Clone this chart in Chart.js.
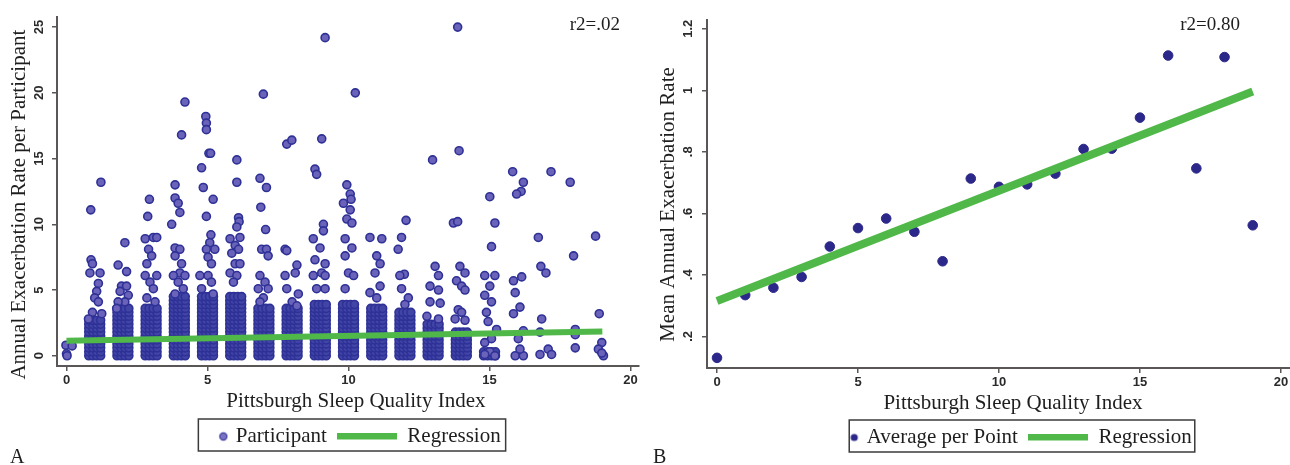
<!DOCTYPE html>
<html>
<head>
<meta charset="utf-8">
<script src="https://cdn.jsdelivr.net/npm/chart.js@4.4.0/dist/chart.umd.min.js"></script>
<style>
html, body { margin: 0; padding: 0; background: #fff; overflow: hidden; width: 1290px; height: 465px; }
#left { position: absolute; left: 0; top: 0; }
#right { position: absolute; left: 645px; top: 0; }
</style>
</head>
<body>
<canvas id="left" width="645" height="465"></canvas>
<canvas id="right" width="680" height="465"></canvas>
<script>
// ---- data ----

const psqi = [0,1,2,3,4,5,6,7,8,9,10,11,12,13,14,15,16,17,18,19];

// panel B: mean annual exacerbation rate per PSQI score
const meanRate = [0.13,0.334,0.358,0.393,0.492,0.552,0.583,0.54,0.444,0.713,
                  0.686,0.694,0.729,0.809,0.81,0.911,1.113,0.746,1.108,0.561];

// fitted regression lines, evaluated at both ends
const fitX = [0, 19];
const fitA = [1.15, 1.85];
const fitB = [0.315, 0.996];

const xTicks = [0,5,10,15,20];
const yTicksA = [0,5,10,15,20,25];
const yTicksB = [0.2,0.4,0.6,0.8,1,1.2];

// panel A: the solid pile of low rates at the bottom of each column
const stackJitter = [-0.21, -0.07, 0.07, 0.21];
const stackLevels = [
  [],
  [0,0.3,0.6,0.9,1.2,1.5,1.8,2.1,2.4,2.7],
  [0,0.3,0.6,0.9,1.2,1.5,1.8,2.1,2.4,2.7,3.0,3.3,3.6],
  [0,0.3,0.6,0.9,1.2,1.5,1.8,2.1,2.4,2.7,3.0,3.3,3.6],
  [0,0.3,0.6,0.9,1.2,1.5,1.8,2.1,2.4,2.7,3.0,3.3,3.6,3.9,4.2,4.5],
  [0,0.3,0.6,0.9,1.2,1.5,1.8,2.1,2.4,2.7,3.0,3.3,3.6,3.9,4.2,4.5],
  [0,0.3,0.6,0.9,1.2,1.5,1.8,2.1,2.4,2.7,3.0,3.3,3.6,3.9,4.2,4.5],
  [0,0.3,0.6,0.9,1.2,1.5,1.8,2.1,2.4,2.7,3.0,3.3,3.6],
  [0,0.3,0.6,0.9,1.2,1.5,1.8,2.1,2.4,2.7,3.0,3.3,3.6],
  [0,0.3,0.6,0.9,1.2,1.5,1.8,2.1,2.4,2.7,3.0,3.3,3.6,3.9],
  [0,0.3,0.6,0.9,1.2,1.5,1.8,2.1,2.4,2.7,3.0,3.3,3.6,3.9],
  [0,0.3,0.6,0.9,1.2,1.5,1.8,2.1,2.4,2.7,3.0,3.3,3.6],
  [0,0.3,0.6,0.9,1.2,1.5,1.8,2.1,2.4,2.7,3.0,3.3],
  [0,0.3,0.6,0.9,1.2,1.5,1.8,2.1,2.4],
  [0,0.3,0.6,0.9,1.2,1.5,1.8],
  [0,0.3],
  [], [], [], []
];

// panel A: individual participants above the pile, [jitter, rate]
const scattered = [
  [[-0.02,0.8],[0.2,0.75],[0,0.15],[0.02,0]],
  [[-0.14,11.1],[0.22,13.2],[-0.13,7.3],[-0.08,7.0],[-0.17,6.3],[0.19,6.3],[0.13,5.5],[0.07,4.9],[0,4.4],[0.13,4.1],[-0.08,3.3],[0.25,3.2],[-0.22,2.8]],
  [[0.07,8.6],[-0.17,6.9],[0.13,6.4],[-0.05,5.3],[0.13,5.3],[-0.1,4.9],[0.19,4.6],[0.07,4.1],[-0.17,4.1],[-0.22,3.6]],
  [[-0.06,11.9],[-0.12,10.6],[-0.21,8.9],[0.08,9.0],[0.2,9.0],[-0.09,8.1],[0.02,7.6],[-0.15,7.0],[0.2,6.1],[-0.21,6.1],[-0.04,5.6],[0.08,5.1],[-0.15,4.4],[0.14,4.1]],
  [[0.2,19.3],[0.08,16.8],[-0.15,13.0],[-0.15,12.0],[-0.04,11.6],[0.02,10.9],[-0.27,10.0],[-0.15,8.2],[0.02,8.1],[-0.15,7.6],[0.08,7.0],[0.02,6.3],[0.2,6.1],[-0.21,6.1],[-0.04,5.6],[0.14,5.1],[-0.15,4.7]],
  [[-0.06,18.2],[-0.04,17.7],[-0.04,17.2],[0.05,15.4],[0.11,15.4],[-0.21,14.3],[-0.15,12.8],[0.2,11.9],[-0.04,10.6],[0.12,9.2],[0.08,8.6],[-0.04,8.1],[0.26,8.1],[0.02,7.5],[0.14,7.0],[-0.27,6.1],[0.02,6.1],[0.14,5.6],[-0.21,5.1],[0.2,4.7]],
  [[0.04,14.9],[0.04,13.2],[0.1,10.5],[0.12,10.2],[0.04,9.8],[0.15,9.0],[-0.2,8.9],[-0.02,8.4],[0.1,8.1],[-0.14,7.8],[-0.02,7.0],[0.15,7.0],[-0.2,6.3],[0.04,6.1],[-0.08,5.6]],
  [[-0.02,19.9],[-0.14,13.5],[0.09,12.8],[-0.11,11.3],[0.06,9.6],[-0.08,8.1],[0.09,8.1],[0.15,7.6],[-0.14,6.1],[0.04,5.6],[-0.2,5.1],[0.15,5.1],[-0.02,4.4],[-0.14,4.1]],
  [[-0.19,16.1],[-0.01,16.4],[-0.25,8.1],[-0.19,8.0],[0.17,6.9],[0.11,6.3],[-0.25,6.1],[-0.19,5.1],[0.22,4.7],[0,4.1],[0.17,3.8]],
  [[0.17,24.2],[0.05,16.5],[-0.19,14.2],[-0.13,13.8],[0.11,10.0],[0.11,9.5],[-0.25,8.9],[-0.01,8.2],[-0.19,7.3],[0.17,7.0],[-0.25,6.1],[0.05,6.3],[0.17,6.1],[-0.13,5.1],[0.17,5.1]],
  [[0.24,20.0],[-0.06,13.0],[0.06,12.3],[0.09,11.9],[-0.18,11.6],[0.06,11.1],[-0.06,10.4],[0.12,10.1],[-0.12,8.9],[0.12,8.2],[-0.12,7.6],[0,6.3],[0.18,6.1],[-0.12,5.1]],
  [[-0.24,9.0],[0.18,8.9],[0,7.6],[0.12,7.0],[-0.06,6.3],[0.12,5.3],[-0.24,4.8],[0,4.4]],
  [[0.04,10.3],[-0.12,9.0],[-0.24,8.1],[-0.02,6.2],[-0.18,6.1],[-0.12,5.1],[0.12,4.4],[0,3.9]],
  [[-0.02,14.9],[0.07,6.8],[0.19,6.1],[-0.11,5.3],[0.19,5.0],[-0.11,4.1],[0.25,4.0],[-0.22,3.0],[0.19,2.8]],
  [[-0.13,25.0],[-0.08,15.6],[-0.28,10.1],[-0.13,10.2],[-0.05,6.8],[0.13,6.3],[-0.17,5.7],[0.01,5.3],[0.13,5.0],[-0.11,3.5],[0.01,3.3],[0.13,2.7],[-0.22,2.8]],
  [[0.01,12.1],[0.19,10.1],[0.07,8.3],[-0.17,6.1],[0.19,6.1],[0.01,5.3],[-0.17,4.6],[0.07,4.1],[-0.11,3.3],[-0.05,2.6],[0.25,2.0],[0.07,1.3],[-0.17,1.0],[0.01,0.3],[0.19,0],[-0.17,0.1]],
  [[-0.18,14.0],[0.2,13.2],[0.12,12.5],[-0.04,12.3],[0.14,6.0],[-0.15,5.7],[-0.09,4.8],[0.08,3.7],[-0.15,3.2],[0.2,1.9],[0.02,1.3],[-0.09,0],[0.2,0],[0.08,0.5]],
  [[0.18,14.0],[-0.27,9.0],[-0.18,6.8],[0,6.3],[-0.15,2.8],[-0.21,1.8],[-0.21,0.1],[0.08,0.5],[0.2,0.1]],
  [[-0.14,13.2],[-0.02,7.6],[0.04,2.0],[0.04,1.6],[0.04,0.6]],
  [[-0.24,9.1],[-0.11,3.2],[-0.02,1.0],[-0.14,0.5],[0.04,0],[-0.02,0.2]]
];

// ---- build point lists ----

let participants = [];
for (let i = 0; i < psqi.length; i++) {
    for (const lvl of stackLevels[i]) {
        for (const j of stackJitter) participants.push({x: psqi[i] + j, y: lvl, dense: true});
    }
    for (const p of scattered[i]) participants.push({x: psqi[i] + p[0], y: p[1]});
}
const averages = psqi.map((x, i) => ({x: x, y: meanRate[i]}));
const lineA = fitX.map((x, i) => ({x: x, y: fitA[i]}));
const lineB = fitX.map((x, i) => ({x: x, y: fitB[i]}));

// ---- styling ----

const GREEN = '#4fb848';
const AXIS = '#5a5656';
const SERIF = '"Liberation Serif", "Times New Roman", serif';
const TICKFONT = {family: '"Liberation Sans", Arial, sans-serif', size: 13, weight: 'bold'};
const NB = '\u00a0';

// legend icons: small marker at the right end of a wide slot, and a thick line
function markerIcon(fill, stroke) {
    const c = document.createElement('canvas');
    c.width = 66; c.height = 12;
    const g = c.getContext('2d');
    g.beginPath();
    g.arc(61, 6, 3.6, 0, Math.PI * 2);
    g.fillStyle = fill; g.fill();
    if (stroke) { g.lineWidth = 1.2; g.strokeStyle = stroke; g.stroke(); }
    return c;
}
function lineIcon() {
    const c = document.createElement('canvas');
    c.width = 60; c.height = 8;
    const g = c.getContext('2d');
    g.fillStyle = GREEN;
    g.fillRect(0, 0, 60, 7);
    return c;
}

// r2 text, panel letter, legend nudge and the frame round the legend
const decorations = {
    id: 'decorations',
    afterLayout(chart, args, o) {
        chart.legend.left += o.legendShift;
        chart.legend.right += o.legendShift;
    },
    afterDraw(chart, args, o) {
        const ctx = chart.ctx;
        ctx.save();
        ctx.fillStyle = '#1e1e1e';
        ctx.textBaseline = 'middle';
        ctx.font = '19px ' + SERIF;
        ctx.textAlign = 'right';
        ctx.fillText(o.r2, o.r2x, o.r2y);
        ctx.font = '20px ' + SERIF;
        ctx.textAlign = 'left';
        ctx.fillText(o.panel, o.panelX, o.panelY);
        const hb = chart.legend.legendHitBoxes;
        if (hb && hb.length) {
            const first = hb[0], last = hb[hb.length - 1];
            const x0 = first.left + o.frameLeft;
            const x1 = last.left + last.width + o.frameRight;
            ctx.strokeStyle = '#3b3b3b';
            ctx.lineWidth = 1.5;
            ctx.strokeRect(x0, first.top - 7, x1 - x0, 32);
        }
        ctx.restore();
    }
};

function buildChart(el, p) {
    return new Chart(el, {
        type: 'scatter',
        data: {
            datasets: [
                {
                    label: p.pointLabel,
                    data: p.points,
                    pointRadius: p.radius,
                    pointHoverRadius: p.radius,
                    // overlapping pile reads darker than the lone markers
                    pointBackgroundColor: c => (c.raw && c.raw.dense) ? p.denseFill : p.fill,
                    pointBorderColor: p.stroke,
                    pointBorderWidth: p.strokeW,
                    order: 1
                },
                {
                    type: 'line',
                    label: 'Regression',
                    data: p.fit,
                    borderColor: GREEN,
                    backgroundColor: GREEN,
                    borderWidth: p.fitW,
                    borderCapStyle: 'butt',
                    pointRadius: 0,
                    fill: false,
                    order: 0
                }
            ]
        },
        options: {
            responsive: false,
            animation: false,
            events: [],
            layout: {padding: {top: p.padTop, right: 6, bottom: p.padBottom, left: 0}},
            scales: {
                x: {
                    type: 'linear',
                    min: p.xMin, max: p.xMax,
                    afterBuildTicks: s => { s.ticks = xTicks.map(v => ({value: v})); },
                    afterFit: s => { s.height = p.xHeight; },
                    ticks: {autoSkip: false, maxRotation: 0, color: '#2a2a2a', font: TICKFONT, padding: 2},
                    grid: {drawOnChartArea: false, drawTicks: true, tickLength: 5, color: AXIS, lineWidth: 1.5},
                    border: {display: true, color: AXIS, width: 2},
                    title: {display: true, text: p.xTitle, color: '#1e1e1e',
                            font: {family: SERIF, size: 21}, padding: {top: 0, bottom: p.xTitlePad}}
                },
                y: {
                    type: 'linear',
                    min: p.yMin, max: p.yMax,
                    afterBuildTicks: s => { s.ticks = p.yTicks.map(v => ({value: v})); },
                    afterFit: s => { s.width = p.yWidth; },
                    ticks: {autoSkip: false, minRotation: 90, maxRotation: 90, crossAlign: 'center',
                            color: '#2a2a2a', font: TICKFONT, padding: 5, callback: p.yLabel},
                    grid: {drawOnChartArea: false, drawTicks: true, tickLength: 5, color: AXIS, lineWidth: 1.5},
                    border: {display: true, color: AXIS, width: 2},
                    title: {display: true, text: p.yTitle, color: '#1e1e1e',
                            font: {family: SERIF, size: 21}, padding: {top: p.yTitlePad, bottom: 0}}
                }
            },
            plugins: {
                tooltip: {enabled: false},
                legend: {
                    position: 'bottom',
                    fullSize: false,
                    labels: {
                        usePointStyle: true,
                        pointStyleWidth: 60,
                        padding: 10,
                        color: '#1e1e1e',
                        font: {family: SERIF, size: 21},
                        sort: (a, b) => a.datasetIndex - b.datasetIndex,
                        generateLabels: chart => {
                            const items = Chart.defaults.plugins.legend.labels.generateLabels(chart);
                            items.forEach(it => { it.pointStyle = p.icons[it.datasetIndex]; });
                            return items;
                        }
                    }
                },
                decorations: p.deco
            }
        },
        plugins: [decorations]
    });
}

// panel A
buildChart(document.getElementById('left'), {
    pointLabel: 'Participant',
    points: participants,
    radius: 4, fill: '#6b63b9', denseFill: '#4244a6', stroke: '#2e3196', strokeW: 1.6,
    fit: lineA, fitW: 6,
    padTop: 17, padBottom: 8,
    xMin: -0.337, xMax: 20.3, xHeight: 50, xTitlePad: 2,
    xTitle: NB + NB + NB + 'Pittsburgh Sleep Quality Index',
    yMin: -0.78, yMax: 25.77, yWidth: 57, yTicks: yTicksA,
    yLabel: v => String(v),
    yTitle: 'Annual Exacerbation Rate per Participant' + NB.repeat(5), yTitlePad: 7,
    icons: [markerIcon('#7b73c2', '#3a3d9e'), lineIcon()],
    deco: {r2: 'r2=.02', r2x: 620, r2y: 25, panel: 'A', panelX: 10, panelY: 458,
           legendShift: -15, frameLeft: 33, frameRight: 5}
});

// panel B
buildChart(document.getElementById('right'), {
    pointLabel: 'Average per Point',
    points: averages,
    radius: 4.8, fill: '#2b2889', denseFill: '#2b2889', stroke: '#2b2889', strokeW: 1,
    fit: lineB, fitW: 8,
    padTop: 20, padBottom: 7,
    xMin: -0.355, xMax: 21.35, xHeight: 49, xTitlePad: 1,
    xTitle: 'Pittsburgh Sleep Quality Index',
    yMin: 0.097, yMax: 1.2285, yWidth: 62, yTicks: yTicksB,
    yLabel: v => (v > 0 && v < 1) ? String(v).slice(1) : String(v),
    yTitle: 'Mean Annual Exacerbation Rate' + NB.repeat(4), yTitlePad: 11,
    icons: [markerIcon('#2b2889', null), lineIcon()],
    deco: {r2: 'r2=0.80', r2x: 595, r2y: 25, panel: 'B', panelX: 8, panelY: 458,
           legendShift: -19, frameLeft: 53, frameRight: 3}
});
</script>
</body>
</html>
